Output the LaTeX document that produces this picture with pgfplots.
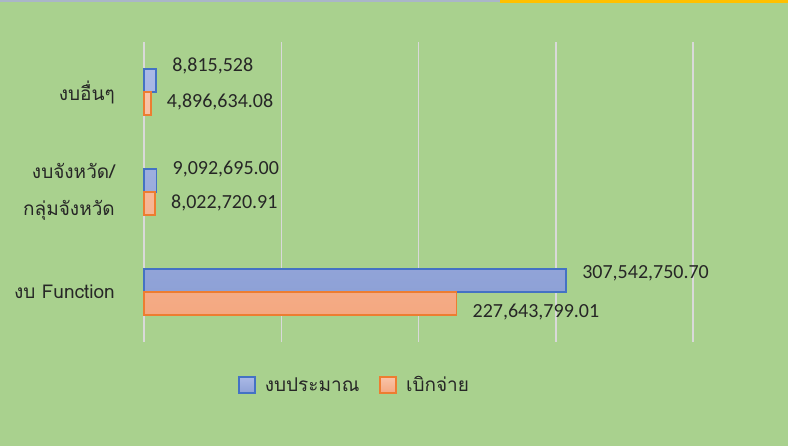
\documentclass[border=0pt]{standalone}
\usepackage{fontspec}
\setmainfont{Carlito}
\newfontfamily\thai[Script=Thai]{Loma}
\usepackage{pgfplots}
\pgfplotsset{compat=1.18}
\pgfplotsset{sqlegend/.style={legend image code/.code={\draw[##1] (0bp,-8bp) rectangle (16bp,8bp);}}}
\definecolor{bg}{HTML}{A9D18E}
\definecolor{topline}{RGB}{170,182,200}
\definecolor{topor}{HTML}{FFC000}
\definecolor{gridc}{HTML}{D9D9D9}
\definecolor{bedge}{HTML}{4472C4}
\definecolor{btop}{HTML}{AAB9E6}
\definecolor{bbot}{HTML}{8EA1D6}
\definecolor{oedge}{HTML}{ED7D31}
\definecolor{otop}{HTML}{F9C4A9}
\definecolor{obot}{HTML}{F4A881}
\begin{document}
\begin{tikzpicture}
\path[use as bounding box, fill=bg] (0bp,0bp) rectangle (788bp,446bp);
\fill[topline] (0bp,444bp) rectangle (500bp,446bp);
\fill[topor] (500bp,442.5bp) rectangle (788bp,446bp);
\begin{axis}[
  at={(144bp,104bp)}, anchor=south west,
  width=549bp, height=300bp, scale only axis,
  xmin=0, xmax=400000000, ymin=-0.5, ymax=2.5,
  axis line style={draw=none},
  scaled x ticks=false,
  xtick={0,100000000,200000000,300000000,400000000},
  xticklabels={}, xmajorgrids,
  grid style={color=gridc, line width=1.5bp},
  major tick length=0pt,
  ytick={0,1,2},
  yticklabels={{งบ Function},{งบจังหวัด/\\กลุ่มจังหวัด},{งบอื่นๆ}},
  yticklabel style={align=right, inner sep=0pt, xshift=-29bp,
    font=\thai\fontsize{19bp}{37bp}\selectfont, text=black!85},
  xbar, bar width=23bp,
  clip=false,
  legend style={at={(0.1658,-0.143)}, anchor=west, draw=none, fill=none,
    legend columns=2, font=\thai\fontsize{19bp}{24bp}\selectfont, text=black!85,
    /tikz/every odd column/.append style={column sep=7bp},
    /tikz/every even column/.append style={column sep=18bp},
    legend cell align=left},
]
\addplot[bar shift=11.5bp, draw=bedge, line width=1.6bp, top color=btop, bottom color=bbot, sqlegend]
  coordinates {(307542750.70,0) (9092695.00,1) (8815528,2)};
\addlegendentry{งบประมาณ}
\addplot[bar shift=-11.5bp, draw=oedge, line width=1.6bp, top color=otop, bottom color=obot, sqlegend]
  coordinates {(227643799.01,0) (8022720.91,1) (4896634.08,2)};
\addlegendentry{เบิกจ่าย}
\begin{scope}[every node/.style={anchor=west, inner sep=0pt, xshift=16bp, font=\fontsize{20bp}{24bp}\selectfont, text=black!85}]
\node at (axis cs:8815528,2.26) {8,815,528};
\node at (axis cs:4896634.08,1.90) {4,896,634.08};
\node at (axis cs:9092695.00,1.23) {9,092,695.00};
\node at (axis cs:8022720.91,0.887) {8,022,720.91};
\node at (axis cs:307542750.70,0.19) {307,542,750.70};
\node at (axis cs:227643799.01,-0.20) {227,643,799.01};
\end{scope}
\end{axis}
\end{tikzpicture}
\end{document}
